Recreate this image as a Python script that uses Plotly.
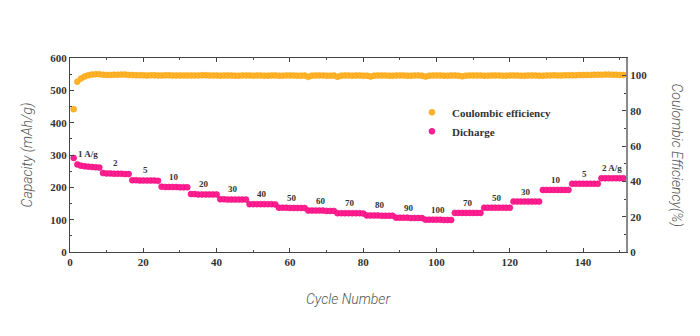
import plotly.graph_objects as go

# ---- data ----
cycles = list(range(1, 152))

discharge = (
    [291, 271, 267, 265, 264, 263, 262, 261] +      # 1 A/g
    [244, 243, 243, 242, 242, 242, 241, 241] +      # 2
    [222, 222, 221, 221, 221, 221, 221, 220] +      # 5
    [202, 201, 201, 201, 201, 200, 200, 200] +      # 10
    [179, 179, 178, 178, 178, 178, 178, 178] +      # 20
    [163, 163, 162, 162, 162, 162, 162, 162] +      # 30
    [148, 148, 148, 148, 148, 148, 148, 147] +      # 40
    [137, 137, 137, 136, 136, 136, 136, 136] +      # 50
    [128, 128, 128, 128, 128, 127, 127, 127] +      # 60
    [120, 120, 120, 120, 120, 120, 120, 119] +      # 70
    [113, 113, 113, 113, 112, 112, 112, 112] +      # 80
    [106, 106, 106, 106, 105, 105, 105, 105] +      # 90
    [100, 100, 100, 100, 100, 99, 99, 99] +         # 100
    [121, 121, 121, 121, 121, 121, 121, 121] +      # 70
    [137, 137, 137, 137, 137, 137, 137, 137] +      # 50
    [156, 156, 156, 156, 156, 156, 156, 156] +      # 30
    [192, 192, 192, 192, 192, 192, 192, 192] +      # 10
    [211, 211, 211, 211, 211, 211, 211, 211] +      # 5
    [228, 228, 228, 228, 228, 228, 228]             # 2 A/g
)

coulombic = [
    81.0, 96.6, 98.4, 99.5, 100.2, 100.6, 100.8, 100.8, 100.5, 100.4,
    100.4, 100.5, 100.5, 100.6, 100.6, 100.4, 100.3, 100.2, 100.2, 100.2,
    100.1, 100.2, 100.2, 100.1, 100.1, 100.2, 100.2, 100.1, 100.1, 100.1,
    100.1, 100.1, 100.1, 100.1, 100.1, 100.2, 100.2, 100.1, 100.1, 100.1,
    100.0, 100.1, 100.1, 100.1, 100.0, 100.0, 100.1, 100.1, 100.1, 100.0,
    100.1, 100.1, 100.0, 100.0, 100.1, 100.1, 100.0, 100.0, 100.1, 100.1,
    100.1, 100.0, 100.0, 100.1, 99.3, 100.0, 100.1, 100.1, 100.1, 100.0,
    100.0, 100.1, 99.4, 100.0, 100.1, 100.1, 100.0, 100.1, 100.1, 100.0,
    100.0, 99.5, 100.0, 100.1, 100.1, 100.1, 100.0, 100.0, 100.1, 100.1,
    100.1, 100.0, 100.0, 100.1, 100.1, 100.0, 99.5, 100.0, 100.1, 100.1,
    100.1, 100.0, 100.0, 100.1, 100.1, 100.0, 99.6, 100.0, 100.1, 100.1,
    100.1, 100.1, 100.0, 100.0, 100.1, 100.1, 100.1, 100.0, 100.0, 100.1,
    100.1, 100.1, 100.0, 100.0, 100.1, 100.1, 100.1, 100.0, 100.0, 100.1,
    100.1, 100.2, 100.1, 100.1, 100.2, 100.2, 100.2, 100.2, 100.3, 100.3,
    100.4, 100.4, 100.5, 100.5, 100.5, 100.6, 100.6, 100.5, 100.5, 100.4,
    100.4
]

rate_labels = ["1 A/g", "2", "5", "10", "20", "30", "40", "50", "60", "70",
               "80", "90", "100", "70", "50", "30", "10", "5", "2 A/g"]
group_size = 8

# ---- figure ----
fig = go.Figure()
fig.add_trace(go.Scatter(
    x=cycles, y=coulombic, yaxis="y2", mode="markers",
    name="Coulombic efficiency",
    marker=dict(size=6, color="#FFB22C", line=dict(color="#F5A000", width=0.5)),
))
fig.add_trace(go.Scatter(
    x=cycles, y=discharge, mode="markers", name="Dicharge",
    marker=dict(size=6, color="#FF2090", line=dict(color="#E8007A", width=0.5)),
))

serif_bold = dict(family="Liberation Serif", size=11, color="#333333", weight="bold")

annotations = []
for i, lab in enumerate(rate_labels):
    grp_x = cycles[i * group_size:(i + 1) * group_size]
    grp_y = discharge[i * group_size:(i + 1) * group_size]
    if i == 0:
        grp_x, grp_y = grp_x[1:], grp_y[1:]
    annotations.append(dict(
        x=sum(grp_x) / len(grp_x), y=max(grp_y), xref="x", yref="y",
        text=lab, showarrow=False, yshift=10,
        font=dict(family="Liberation Serif", size=9, color="#333333", weight="bold"),
    ))

annotations.append(dict(
    x=1.0, y=0.5, xref="paper", yref="paper", xanchor="left", yanchor="middle",
    xshift=40, text="Coulombic Efficiency(%)", textangle=90, showarrow=False,
    font=dict(family="Roboto", size=14, color="#555555", style="italic", weight=300),
))

title_font = dict(family="Roboto", size=14, color="#555555", style="italic", weight=300)

fig.update_layout(
    width=700, height=336,
    margin=dict(l=70, r=74, t=58, b=84),
    paper_bgcolor="white", plot_bgcolor="white",
    showlegend=True,
    legend=dict(x=0.615, y=0.795, xanchor="left", yanchor="top",
                bgcolor="rgba(0,0,0,0)", font=serif_bold,
                itemsizing="trace", tracegroupgap=0),
    annotations=annotations,
    xaxis=dict(
        range=[0, 151.7], dtick=20, tick0=0,
        title=dict(text="Cycle Number", font=title_font, standoff=26),
        showline=True, linecolor="#444444", linewidth=1, mirror="ticks",
        ticks="inside", ticklen=4, tickcolor="#444444",
        minor=dict(dtick=10, ticks="inside", ticklen=2, tickcolor="#444444"),
        showgrid=False, zeroline=False, tickfont=serif_bold,
    ),
    yaxis=dict(
        range=[0, 600], dtick=100,
        title=dict(text="Capacity (mAh/g)", font=title_font, standoff=14),
        showline=True, linecolor="#444444", linewidth=1,
        ticks="inside", ticklen=4, tickcolor="#444444",
        minor=dict(dtick=50, ticks="inside", ticklen=2, tickcolor="#444444"),
        showgrid=False, zeroline=False, tickfont=serif_bold,
    ),
    yaxis2=dict(
        range=[0, 110], dtick=20, overlaying="y", side="right",
        showline=True, linecolor="#8a8a8a", linewidth=2,
        ticks="inside", ticklen=4, tickcolor="#444444",
        minor=dict(dtick=10, ticks="inside", ticklen=2, tickcolor="#444444"),
        showgrid=False, zeroline=False, tickfont=serif_bold,
    ),
)

fig.write_html("out.html")
